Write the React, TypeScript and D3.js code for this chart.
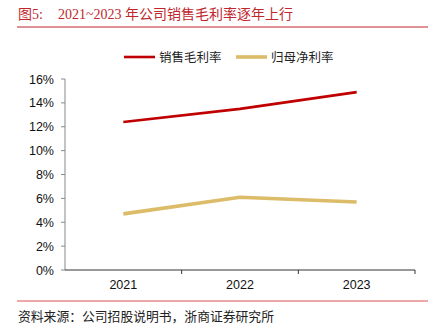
import React from "react";
import * as d3 from "d3";

const years = ["2021", "2022", "2023"];
const grossMargin = [0.124, 0.135, 0.149];
const netMargin = [0.047, 0.061, 0.057];
const yTicks = [0, 0.02, 0.04, 0.06, 0.08, 0.1, 0.12, 0.14, 0.16];
const seriesNames = ["销售毛利率", "归母净利率"];
const titleLabel = "图5:";
const title = "2021~2023 年公司销售毛利率逐年上行";
const source = "资料来源：公司招股说明书，浙商证券研究所";

export default function App() {
  const W = 438, H = 335;
  const left = 65, right = 415, top = 79, bottom = 270;
  const x = d3.scaleBand<string>().domain(years).range([left, right]);
  const y = d3.scaleLinear().domain([0, 0.16]).range([bottom, top]);
  const line = d3
    .line<number>()
    .x((_, i) => (x(years[i]) as number) + x.bandwidth() / 2)
    .y((d) => y(d));
  const colors = ["#c00000", "#dcbc68"];
  const widths = [2.6, 3.6];
  const font = "Liberation Sans, Arial, Noto Sans CJK SC, sans-serif";
  const serif = "Liberation Serif, Times New Roman, Noto Sans CJK SC, serif";
  return (
    <svg width={W} height={H} style={{ position: "absolute", left: 0, top: 0, background: "#fff" }}>
      <text x={18} y={19} fontSize={14} fill="#c0272d" fontFamily={serif}>{titleLabel}</text>
      <text x={58} y={19} fontSize={14} fill="#c0272d" fontFamily={serif} style={{ whiteSpace: "pre" }}>{title}</text>
      <line x1={17} x2={428} y1={27} y2={27} stroke="#c0272d" strokeWidth={1.2} />
      {/* legend */}
      {seriesNames.map((n, i) => {
        const lx = i === 0 ? 124 : 236;
        return (
          <g key={n}>
            <line x1={lx} x2={lx + 31} y1={57} y2={57} stroke={colors[i]} strokeWidth={widths[i]} />
            <text x={lx + 35} y={61.5} fontSize={12.5} fill="#222" fontFamily={font}>{n}</text>
          </g>
        );
      })}
      {/* y axis */}
      <line x1={left} x2={left} y1={top} y2={bottom} stroke="#888" strokeWidth={1} />
      {yTicks.map((t) => (
        <g key={t}>
          <line x1={left - 4} x2={left} y1={y(t)} y2={y(t)} stroke="#888" />
          <text x={54} y={y(t) + 4.5} fontSize={12.5} textAnchor="end" fill="#111" fontFamily={font}>
            {d3.format(".0%")(t)}
          </text>
        </g>
      ))}
      {/* x axis */}
      <line x1={left} x2={right} y1={bottom} y2={bottom} stroke="#333" strokeWidth={1} />
      {years.map((yr) => (
        <g key={yr}>
          <line
            x1={(x(yr) as number) + x.bandwidth()}
            x2={(x(yr) as number) + x.bandwidth()}
            y1={bottom}
            y2={bottom + 4}
            stroke="#333"
          />
          <text
            x={(x(yr) as number) + x.bandwidth() / 2}
            y={bottom + 19}
            fontSize={12.5}
            textAnchor="middle"
            fill="#111"
            fontFamily={font}
          >
            {yr}
          </text>
        </g>
      ))}
      <path d={line(netMargin) || ""} fill="none" stroke={colors[1]} strokeWidth={widths[1]} />
      <path d={line(grossMargin) || ""} fill="none" stroke={colors[0]} strokeWidth={widths[0]} />
      <line x1={17} x2={428} y1={301} y2={301} stroke="#d9534f" strokeWidth={1} />
      <text x={18} y={321} fontSize={12.8} fill="#222" fontFamily={serif}>{source}</text>
    </svg>
  );
}
